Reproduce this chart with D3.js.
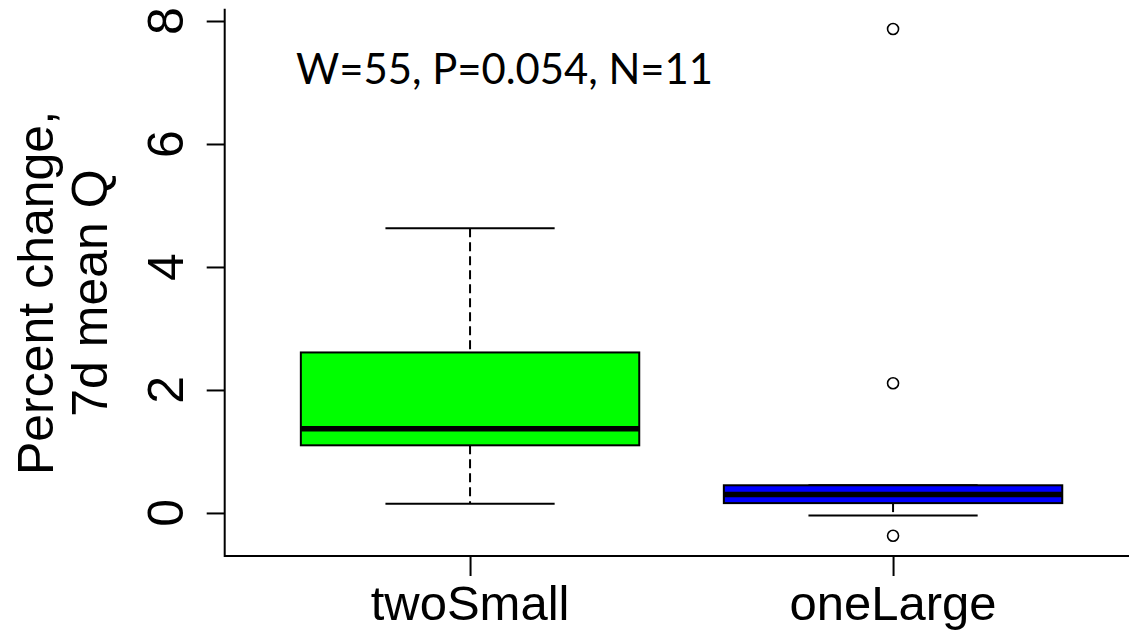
<!DOCTYPE html>
<html><head><meta charset="utf-8">
<script src="https://cdn.jsdelivr.net/npm/d3@7"></script>
<style>body{margin:0;background:#fff}svg{display:block}</style>
</head><body>
<svg id="c" width="1129" height="630"></svg>
<script>
const categories = ["twoSmall", "oneLarge"];
const fills = ["#00ff00", "#0000ff"];
const lowerWhisker = [0.15, -0.04];
const q1 = [1.10, 0.16];
const median = [1.37, 0.30];
const q3 = [2.61, 0.45];
const upperWhisker = [4.63, 0.45];
const outliers = [[], [7.87, 2.11, -0.37]];
const yTicks = [0, 2, 4, 6, 8];
const annotation = "W=55, P=0.054, N=11";
const yTitle = ["Percent change,", "7d mean Q"];

const svg = d3.select("#c");
const y = d3.scaleLinear().domain([-0.7, 8.2]).range([556, 8.7]);
const x = d3.scaleLinear().domain([0.42, 2.58]).range([224.7, 1138.4]);
const boxW = 0.8;
const FONT = "Liberation Sans, Arial, sans-serif";

// L-shaped frame
svg.append("path")
  .attr("d", `M${x(0.42)},${y(8.2)}V${y(-0.7)}H1129`)
  .attr("fill", "none").attr("stroke", "#000").attr("stroke-width", 2);

// y axis ticks
const yAxis = d3.axisLeft(y).tickValues(yTicks).tickSize(18).tickFormat("");
const ga = svg.append("g").attr("transform", `translate(${x(0.42)},0)`).call(yAxis);
ga.select(".domain").remove();
ga.selectAll(".tick line").attr("stroke", "#000").attr("stroke-width", 2);
svg.selectAll(".ylab").data(yTicks).enter().append("text")
  .attr("transform", d => `translate(183,${y(d)}) rotate(-90)`)
  .attr("text-anchor", "middle")
  .attr("font-family", FONT)
  .attr("font-size", 50).text(d => d);

// x axis ticks
const xAxis = d3.axisBottom(x).tickValues([1, 2]).tickSize(20).tickFormat("");
const gx = svg.append("g").attr("transform", `translate(0,${y(-0.7)})`).call(xAxis);
gx.select(".domain").remove();
gx.selectAll(".tick line").attr("stroke", "#000").attr("stroke-width", 2);
svg.selectAll(".xlab").data(categories).enter().append("text")
  .attr("x", (d, i) => x(i + 1)).attr("y", 620)
  .attr("text-anchor", "middle")
  .attr("font-family", FONT)
  .attr("font-size", 49)
  .text(d => d);

// y title
const titleX = [53, 107];
yTitle.forEach((t, i) => {
  svg.append("text")
    .attr("transform", `translate(${titleX[i]},293) rotate(-90)`)
    .attr("text-anchor", "middle")
    .attr("font-family", FONT)
    .attr("font-size", 50)
    .text(t);
});

// boxes
categories.forEach((c, i) => {
  const cx = x(i + 1);
  const g = svg.append("g");
  g.append("line").attr("x1", cx).attr("x2", cx)
    .attr("y1", y(upperWhisker[i])).attr("y2", y(q3[i]))
    .attr("stroke", "#000").attr("stroke-width", 2).attr("stroke-dasharray", "9,5");
  g.append("line").attr("x1", cx).attr("x2", cx)
    .attr("y1", y(q1[i])).attr("y2", y(lowerWhisker[i]))
    .attr("stroke", "#000").attr("stroke-width", 2).attr("stroke-dasharray", "9,5");
  [upperWhisker[i], lowerWhisker[i]].forEach(v => {
    g.append("line")
      .attr("x1", x(i + 1 - boxW / 4)).attr("x2", x(i + 1 + boxW / 4))
      .attr("y1", y(v)).attr("y2", y(v))
      .attr("stroke", "#000").attr("stroke-width", 2);
  });
  g.append("rect")
    .attr("x", x(i + 1 - boxW / 2)).attr("width", x(i + 1 + boxW / 2) - x(i + 1 - boxW / 2))
    .attr("y", y(q3[i])).attr("height", y(q1[i]) - y(q3[i]))
    .attr("fill", fills[i]).attr("stroke", "#000").attr("stroke-width", 2);
  g.append("line")
    .attr("x1", x(i + 1 - boxW / 2)).attr("x2", x(i + 1 + boxW / 2))
    .attr("y1", y(median[i])).attr("y2", y(median[i]))
    .attr("stroke", "#000").attr("stroke-width", 5.5);
  g.selectAll("circle").data(outliers[i]).enter().append("circle")
    .attr("cx", cx).attr("cy", d => y(d)).attr("r", 5.5)
    .attr("fill", "none").attr("stroke", "#000").attr("stroke-width", 1.6);
});

// annotation
svg.append("text").attr("x", 296).attr("y", 84)
  .attr("font-family", "Lato, 'Open Sans', sans-serif")
  .attr("font-size", 42)
  .attr("textLength", 417).attr("lengthAdjust", "spacingAndGlyphs")
  .text(annotation);
</script>
</body></html>
